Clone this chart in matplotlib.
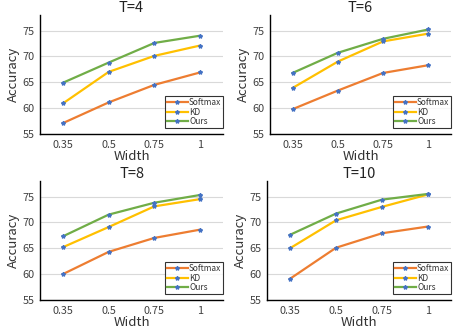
import numpy as np
import matplotlib
matplotlib.use("Agg")
import matplotlib.pyplot as plt

plt.rcParams['font.family'] = ['Noto Sans CJK SC', 'DejaVu Sans']

widths = ["0.35", "0.5", "0.75", "1"]
temps = ["T=4", "T=6", "T=8", "T=10"]

softmax = [[57.1, 61.1, 64.5, 66.9],
           [59.8, 63.4, 66.8, 68.3],
           [60.0, 64.3, 67.0, 68.6],
           [59.1, 65.1, 67.9, 69.2]]
kd = [[60.9, 67.0, 70.1, 72.1],
      [63.9, 69.0, 72.9, 74.4],
      [65.2, 69.1, 73.1, 74.5],
      [65.0, 70.4, 73.0, 75.4]]
ours = [[64.9, 68.8, 72.6, 74.0],
        [66.8, 70.7, 73.4, 75.2],
        [67.3, 71.5, 73.8, 75.3],
        [67.6, 71.7, 74.4, 75.5]]

colors = {"Softmax": "#ED7D31", "KD": "#FFC000", "Ours": "#70AD47"}

fig = plt.figure(figsize=(4.57, 3.30), dpi=100)

# axes boxes in pixels: left, top, right, bottom
boxes = [(40, 15, 223, 134), (270, 15, 451, 134),
         (40, 181, 223, 300), (267, 181, 451, 300)]

x = np.arange(len(widths))
for i, (l, t, r, b) in enumerate(boxes):
    ax = fig.add_axes([l / 457, (330 - b) / 330, (r - l) / 457, (b - t) / 330])
    for name, data in (("Softmax", softmax), ("KD", kd), ("Ours", ours)):
        ax.plot(x, data[i], color=colors[name], lw=1.6, label=name,
                marker="*", ms=3, mfc="#4472C4", mec="#4472C4", zorder=3)
    ax.set_xlim(-0.5, 3.5)
    ax.set_ylim(55, 78)
    ax.set_yticks([55, 60, 65, 70, 75])
    ax.set_xticks(x)
    ax.set_xticklabels(widths)
    ax.tick_params(length=0, labelsize=7.8, colors="#404040", pad=4)
    ax.yaxis.grid(True, color="#d9d9d9", lw=0.8)
    ax.set_axisbelow(True)
    for s in ("top", "right"):
        ax.spines[s].set_visible(False)
    for s in ("left", "bottom"):
        ax.spines[s].set_color("black")
        ax.spines[s].set_linewidth(1.0)
    ax.set_title(temps[i], fontsize=10.5, pad=1.5, color="#222222")
    ax.set_xlabel("Width", fontsize=9.5, labelpad=0, color="#333333")
    ax.set_ylabel("Accuracy", fontsize=9.5, labelpad=2, color="#333333")
    leg = ax.legend(loc="lower right", bbox_to_anchor=(1.0, 0.05), fontsize=6,
                    frameon=True, fancybox=False, borderaxespad=0,
                    handlelength=2.6, handletextpad=0.1, labelspacing=0.1,
                    borderpad=0.2)
    leg.get_frame().set_edgecolor("black")
    leg.get_frame().set_linewidth(0.8)
    for txt in leg.get_texts():
        txt.set_color("#333333")

fig.savefig("out.png", dpi=100)
